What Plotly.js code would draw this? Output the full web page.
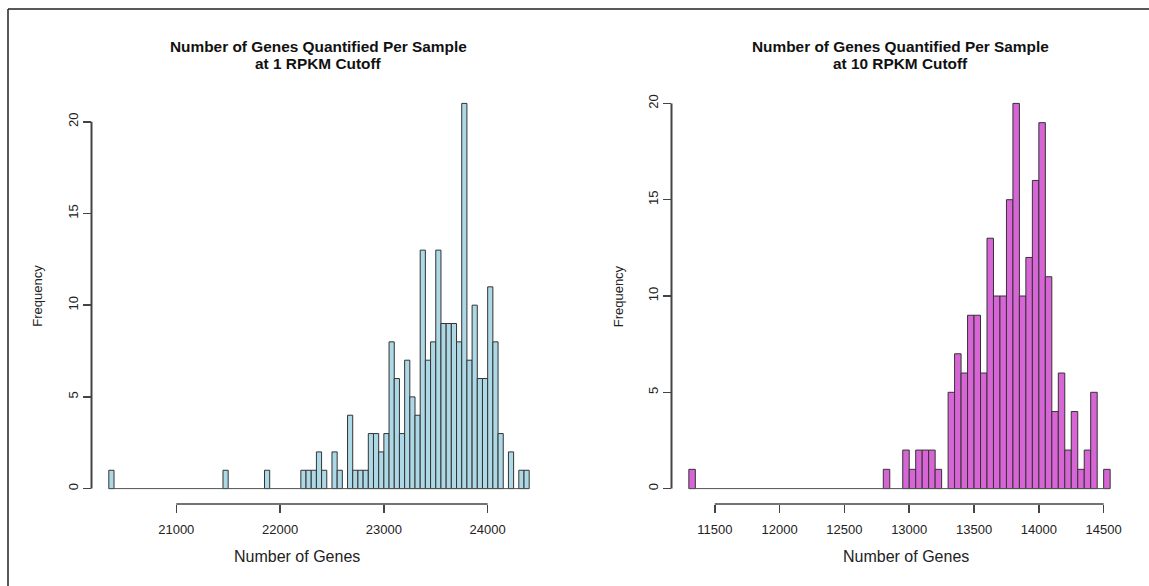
<!DOCTYPE html>
<html>
<head>
<meta charset="utf-8">
<script src="https://cdn.plot.ly/plotly-3.0.1.min.js"></script>
<style>
  html, body { margin: 0; padding: 0; background: #ffffff; }
  #chart { width: 1149px; height: 586px; }
</style>
</head>
<body>
<div id="chart"></div>
<script>
// ---- Data ----
const binWidth = 50;

// Left panel: 1 RPKM cutoff (lower edge of each non-empty bin, and its count)
const binStart1 = [20350, 21450, 21850, 22200, 22250, 22300, 22350, 22400, 22500, 22550,
                   22650, 22700, 22750, 22800, 22850, 22900, 22950, 23000, 23050, 23100,
                   23150, 23200, 23250, 23300, 23350, 23400, 23450, 23500, 23550, 23600,
                   23650, 23700, 23750, 23800, 23850, 23900, 23950, 24000, 24050, 24100,
                   24200, 24300, 24350];
const counts1   = [1, 1, 1, 1, 1, 1, 2, 1, 2, 1,
                   4, 1, 1, 1, 3, 3, 2, 3, 8, 6,
                   3, 7, 5, 4, 13, 7, 8, 13, 9, 9,
                   9, 8, 21, 7, 10, 6, 6, 11, 8, 3,
                   2, 1, 1];

// Right panel: 10 RPKM cutoff
const binStart2 = [11300, 12800, 12950, 13000, 13050, 13100, 13150, 13200, 13300, 13350,
                   13400, 13450, 13500, 13550, 13600, 13650, 13700, 13750, 13800, 13850,
                   13900, 13950, 14000, 14050, 14100, 14150, 14200, 14250, 14300, 14350,
                   14400, 14500];
const counts2   = [1, 1, 2, 1, 2, 2, 2, 1, 5, 7,
                   6, 9, 9, 6, 13, 10, 10, 15, 20, 10,
                   12, 16, 19, 11, 4, 6, 2, 4, 1, 2,
                   5, 1];

const xTicks1 = [21000, 22000, 23000, 24000];
const xTicks2 = [11500, 12000, 12500, 13000, 13500, 14000, 14500];
const yTicks  = [0, 5, 10, 15, 20];

const title1a = "Number of Genes Quantified Per Sample";
const title1b = "at 1 RPKM Cutoff";
const title2a = "Number of Genes Quantified Per Sample";
const title2b = "at 10 RPKM Cutoff";
const xLabel = "Number of Genes";
const yLabel = "Frequency";

// ---- Layout helpers ----
const W = 1149, H = 586;
const px = v => v / W;
const py = v => 1 - v / H;
const FONT = '"Liberation Sans", Arial, Helvetica, sans-serif';

const plotTop = 88, plotBottom = 504;
const left1 = 92, right1 = 546, left2 = 672, right2 = 1127;
const xDom1 = [px(left1), px(right1)];
const xDom2 = [px(left2), px(right2)];
const yDom = [py(plotBottom), py(plotTop)];

function pad(lo, hi) { const d = (hi - lo) * 0.04; return [lo - d, hi + d]; }
const xr1 = pad(binStart1[0], binStart1[binStart1.length - 1] + binWidth);
const xr2 = pad(binStart2[0], binStart2[binStart2.length - 1] + binWidth);
const yr1 = pad(0, Math.max(...counts1));
const yr2 = pad(0, Math.max(...counts2));

// data value -> paper fraction on a y axis (for unclipped axis lines)
function yPaper(v, yr) { return yDom[0] + (v - yr[0]) / (yr[1] - yr[0]) * (yDom[1] - yDom[0]); }

const barLine = { color: '#333333', width: 1 };

const traces = [
  { type: 'bar', x: binStart1, y: counts1, width: binWidth, offset: 0,
    marker: { color: '#ADD8E6', line: barLine }, xaxis: 'x', yaxis: 'y',
    hoverinfo: 'x+y', showlegend: false },
  { type: 'bar', x: binStart2, y: counts2, width: binWidth, offset: 0,
    marker: { color: '#D865D6', line: barLine }, xaxis: 'x2', yaxis: 'y2',
    hoverinfo: 'x+y', showlegend: false }
];

const axisColor = '#444444';
const axisW = 1.5;
const tickFontX = { family: FONT, size: 13, color: '#222222' };
const tickFontY = { family: FONT, size: 13, color: '#222222' };

function xAxis(domain, range, ticks, anchor) {
  return { domain: domain, range: range, tickvals: ticks, ticktext: ticks.map(String),
           ticks: 'outside', ticklen: 8, tickwidth: axisW, tickcolor: axisColor,
           ticklabelstandoff: 5,
           showgrid: false, zeroline: false, showline: false, anchor: anchor,
           tickfont: tickFontX, fixedrange: true };
}
function yAxis(domain, range, anchor) {
  return { domain: domain, range: range, tickvals: yTicks, ticktext: yTicks.map(String),
           ticks: 'outside', ticklen: 8, tickwidth: axisW, tickcolor: axisColor,
           tickangle: -90, showgrid: false, zeroline: false, showline: false,
           anchor: anchor, side: 'left', tickfont: tickFontY, fixedrange: true };
}

function vline(xpx, yr) {
  return { type: 'line', xref: 'paper', yref: 'paper',
    x0: px(xpx), x1: px(xpx),
    y0: yPaper(yTicks[0], yr), y1: yPaper(yTicks[yTicks.length - 1], yr),
    line: { color: axisColor, width: 2 } };
}

const shapes = [
  // R-style axis lines that span only the tick range
  { type: 'line', xref: 'x', yref: 'paper', x0: xTicks1[0], x1: xTicks1[xTicks1.length - 1],
    y0: yDom[0], y1: yDom[0], line: { color: axisColor, width: axisW } },
  vline(left1 - 0.5, yr1),
  { type: 'line', xref: 'x2', yref: 'paper', x0: xTicks2[0], x1: xTicks2[xTicks2.length - 1],
    y0: yDom[0], y1: yDom[0], line: { color: axisColor, width: axisW } },
  vline(left2 - 0.5, yr2),
  // zero baseline across the binned range (empty bins)
  { type: 'line', xref: 'x', yref: 'y', x0: binStart1[0], x1: binStart1[binStart1.length - 1] + binWidth,
    y0: 0, y1: 0, line: { color: '#555555', width: 1 } },
  { type: 'line', xref: 'x2', yref: 'y2', x0: binStart2[0], x1: binStart2[binStart2.length - 1] + binWidth,
    y0: 0, y1: 0, line: { color: '#555555', width: 1 } },
  // frame of the picture (top and left edges)
  { type: 'line', xref: 'paper', yref: 'paper', x0: px(8), x1: 1, y0: py(9), y1: py(9),
    line: { color: '#222222', width: 1.5 } },
  { type: 'line', xref: 'paper', yref: 'paper', x0: px(8), x1: px(8), y0: 0, y1: py(9),
    line: { color: '#222222', width: 1.5 } }
];

const titleFont = { family: FONT, size: 15.4, color: '#111111' };
const labFontX = { family: FONT, size: 16, color: '#222222' };
const labFontY = { family: FONT, size: 13, color: '#222222' };

function ann(text, x, y, font, extra) {
  return Object.assign({ text: text, x: px(x), y: py(y), xref: 'paper', yref: 'paper',
    xanchor: 'center', yanchor: 'middle', showarrow: false, font: font }, extra || {});
}

const annotations = [
  ann('<b>' + title1a + '</b>', 318.5, 46.7, titleFont),
  ann('<b>' + title1b + '</b>', 318.5, 63.5, titleFont),
  ann('<b>' + title2a + '</b>', 900, 46.7, titleFont),
  ann('<b>' + title2b + '</b>', 900, 63.5, titleFont),
  ann(xLabel, 296.5, 556, labFontX),
  ann(xLabel, 905.5, 556, labFontX),
  ann(yLabel, 36.7, 296, labFontY, { textangle: -90 }),
  ann(yLabel, 618.3, 296, labFontY, { textangle: -90 })
];

const layout = {
  width: W, height: H,
  margin: { l: 0, r: 0, t: 0, b: 0, pad: 0 },
  paper_bgcolor: '#ffffff', plot_bgcolor: 'rgba(0,0,0,0)',
  showlegend: false, bargap: 0,
  xaxis: xAxis(xDom1, xr1, xTicks1, 'y'),
  yaxis: yAxis(yDom, yr1, 'x'),
  xaxis2: xAxis(xDom2, xr2, xTicks2, 'y2'),
  yaxis2: yAxis(yDom, yr2, 'x2'),
  shapes: shapes,
  annotations: annotations,
  font: { family: FONT }
};

Plotly.newPlot('chart', traces, layout, { staticPlot: true, displayModeBar: false });
</script>
</body>
</html>
